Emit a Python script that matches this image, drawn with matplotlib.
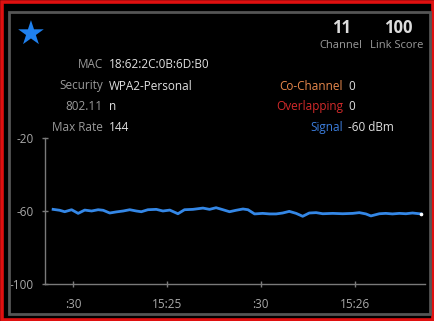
import matplotlib.pyplot as plt
from matplotlib.patches import Rectangle
from matplotlib.ticker import FixedLocator

# seconds after 15:24:00
times = [23.6, 25.7, 27.3, 29.5, 31.6, 33.7, 35.9, 38.0, 39.6, 41.7, 43.8, 46.0,
         48.1, 50.2, 51.8, 53.9, 56.6, 58.7, 60.9, 63.5, 65.6, 68.3, 71.5, 73.6,
         75.7, 77.9, 80.0, 82.1, 84.3, 85.9, 88.0, 90.6, 92.8, 94.9, 97.0, 99.1,
         101.3, 103.4, 105.5, 107.7, 109.8, 113.0, 116.2, 119.4, 121.5, 123.6,
         125.2, 127.9, 130.0, 132.1, 134.3, 136.4, 138.5, 141.2]
signal = [-59.1, -59.6, -60.4, -59.3, -61.3, -59.5, -60.0, -59.3, -59.6, -61.1,
          -60.5, -60.0, -59.3, -60.0, -60.4, -59.3, -59.1, -60.0, -59.5, -61.5,
          -59.3, -59.1, -58.4, -59.1, -58.2, -59.3, -60.4, -59.6, -58.9, -59.3,
          -61.6, -61.3, -61.6, -61.6, -61.1, -60.2, -61.3, -62.9, -61.1, -60.9,
          -61.5, -61.3, -61.5, -61.3, -60.9, -61.6, -62.7, -61.5, -61.3, -61.6,
          -61.3, -61.5, -61.1, -61.6]

x_ticks = [30, 60, 90, 120]
x_labels = [':30', '15:25', ':30', '15:26']
y_ticks = [-20, -60, -100]

info_left = [('MAC', '18:62:2C:0B:6D:B0'), ('Security', 'WPA2-Personal'),
             ('802.11', 'n'), ('Max Rate', '144')]
info_right = [('Co-Channel', '0', '#e8884c'), ('Overlapping', '0', '#d42a2a'),
              ('Signal', '-60 dBm', '#3b7ddc')]

W, H = 434, 321
plt.rcParams['font.family'] = ['Open Sans', 'DejaVu Sans']
plt.rcParams['axes.unicode_minus'] = False
fig = plt.figure(figsize=(W / 100, H / 100), dpi=100, facecolor='black')


def fx(px):
    return px / W


def fy(py):
    return 1 - py / H


# outer red frame and grey panel border
fig.patches.append(Rectangle((fx(1.5), fy(319.5)), fx(431), 318 / H,
                             transform=fig.transFigure, fill=False,
                             edgecolor='#e01010', linewidth=2.6))
fig.patches.append(Rectangle((fx(8.5), fy(313.5)), fx(421), (313.5 - 12) / H,
                             transform=fig.transFigure, fill=False,
                             edgecolor='#555555', linewidth=2.0))

ax = fig.add_axes([fx(45), fy(284), fx(380), (284 - 138) / H])
ax.set_facecolor('black')
ax.plot(times, signal, color='#3487e6', linewidth=2.0, solid_joinstyle='round')
ax.plot(times[-1:], signal[-1:], 'o', color='white', markersize=1.6)
ax.set_xlim(21, 142.5)
ax.set_ylim(-100, -20)
ax.xaxis.set_major_locator(FixedLocator(x_ticks))
ax.set_xticklabels(x_labels)
ax.set_yticks(y_ticks)
for s in ['top', 'right']:
    ax.spines[s].set_visible(False)
for s in ['left', 'bottom']:
    ax.spines[s].set_color('#7a7a7a')
    ax.spines[s].set_linewidth(1.0)
ax.tick_params(colors='#7a7a7a', labelcolor='#a8a8a8', labelsize=8.5,
               direction='inout', length=4, width=1)
ax.tick_params(axis='y', pad=6)
ax.tick_params(axis='x', pad=8)

# header
fig.text(fx(31), fy(35), '\u2605', color='#1f80ee', fontsize=24,
         ha='center', va='center', family='DejaVu Sans')
fig.text(fx(342), fy(28), '11', color='#dddddd', fontsize=12, fontweight='bold',
         ha='center', va='center')
fig.text(fx(398), fy(28), '100', color='#dddddd', fontsize=12, fontweight='bold',
         ha='center', va='center')
fig.text(fx(341), fy(45), 'Channel', color='#9a9a9a', fontsize=8,
         ha='center', va='center')
fig.text(fx(397), fy(45), 'Link Score', color='#9a9a9a', fontsize=8,
         ha='center', va='center')

rows_y = [64, 86, 107, 127.5]
for (lab, val), yy in zip(info_left, rows_y):
    fig.text(fx(103), fy(yy), lab, color='#9a9a9a', fontsize=8.5, ha='right', va='center')
    fig.text(fx(108.5), fy(yy), val, color='#e0e0e0', fontsize=8.5, ha='left', va='center')
for (lab, val, col), yy in zip(info_right, rows_y[1:]):
    fig.text(fx(343), fy(yy), lab, color=col, fontsize=8.5, ha='right', va='center')
    fig.text(fx(348), fy(yy), val, color='#e0e0e0', fontsize=8.5, ha='left', va='center')

fig.savefig('out.png', dpi=100, facecolor='black')
